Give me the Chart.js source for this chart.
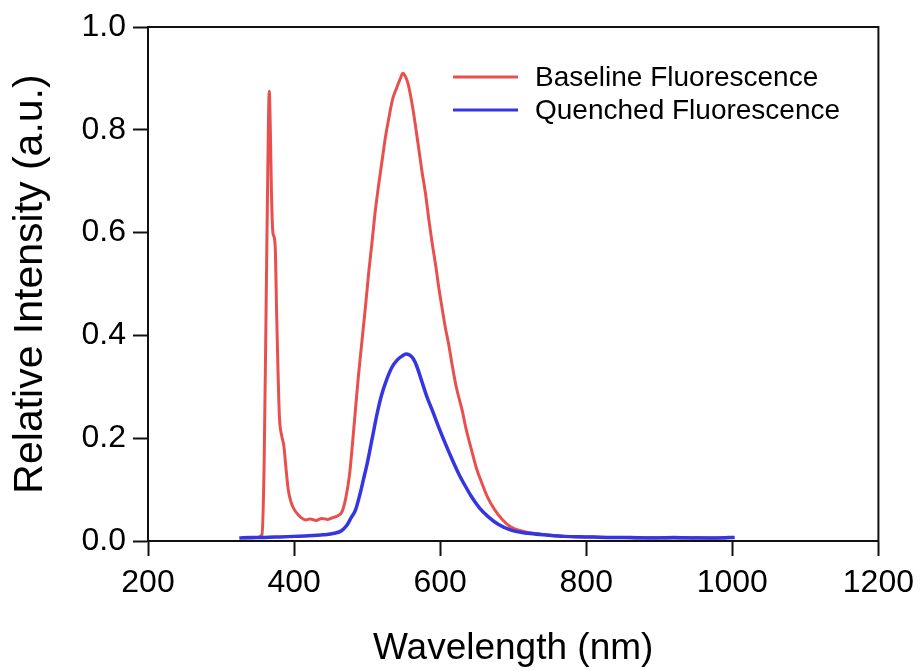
<!DOCTYPE html>
<html>
<head>
<meta charset="utf-8">
<script src="https://cdn.jsdelivr.net/npm/chart.js@4.4.1/dist/chart.umd.min.js"></script>
<style>
  html, body { margin: 0; padding: 0; background: #ffffff; }
  #wrap { width: 922px; height: 671px; position: relative; }
</style>
</head>
<body>
<div id="wrap"><canvas id="c" width="922" height="671"></canvas></div>
<script>
// ---- Data ----
const seriesNames = ['Baseline Fluorescence', 'Quenched Fluorescence'];

const baselineWavelength = [330, 340, 350, 356, 359, 362, 364, 366, 367.5, 369, 371, 373, 374.5, 376, 378, 380, 383, 386, 389, 392, 396, 400, 405, 410, 416, 422, 430, 438, 446, 454, 460, 466, 471, 476, 480, 484, 488, 493, 498, 502, 507, 511, 516, 521, 525, 530, 535, 540, 545, 549, 552, 556, 561, 566, 571, 575, 580, 585, 589, 594, 598, 603, 607, 612, 616, 622, 630, 636, 643, 650, 657, 665, 675, 685, 697, 710, 722, 734, 750, 770, 790, 810, 830, 850, 870, 890, 910, 930, 950, 970, 990, 1003];
const baselineIntensity = [0.006, 0.006, 0.007, 0.012, 0.15, 0.49, 0.72, 0.875, 0.80, 0.68, 0.60, 0.59, 0.56, 0.45, 0.33, 0.24, 0.205, 0.185, 0.14, 0.10, 0.075, 0.062, 0.052, 0.045, 0.041, 0.043, 0.040, 0.044, 0.042, 0.046, 0.049, 0.058, 0.085, 0.13, 0.19, 0.255, 0.32, 0.39, 0.46, 0.52, 0.585, 0.64, 0.695, 0.745, 0.785, 0.825, 0.86, 0.88, 0.898, 0.91, 0.905, 0.89, 0.855, 0.81, 0.76, 0.72, 0.675, 0.62, 0.58, 0.535, 0.494, 0.45, 0.416, 0.38, 0.346, 0.30, 0.255, 0.215, 0.177, 0.14, 0.113, 0.085, 0.06, 0.042, 0.027, 0.020, 0.016, 0.014, 0.011, 0.009, 0.008, 0.008, 0.007, 0.007, 0.006, 0.007, 0.006, 0.006, 0.007, 0.006, 0.006, 0.007];

const quenchedWavelength = [325, 340, 360, 380, 400, 420, 440, 455, 465, 472, 478, 484, 490, 495, 500, 507, 514, 520, 527, 534, 541, 548, 553, 558, 563, 568, 575, 582, 589, 597, 607, 616, 625, 634, 643, 654, 666, 680, 697, 720, 743, 770, 800, 830, 860, 890, 920, 950, 980, 1003];
const quenchedIntensity = [0.006, 0.007, 0.007, 0.008, 0.009, 0.010, 0.012, 0.015, 0.020, 0.030, 0.045, 0.060, 0.090, 0.120, 0.150, 0.200, 0.250, 0.285, 0.315, 0.338, 0.352, 0.360, 0.364, 0.362, 0.355, 0.340, 0.310, 0.280, 0.255, 0.225, 0.190, 0.160, 0.132, 0.108, 0.086, 0.064, 0.047, 0.032, 0.021, 0.015, 0.012, 0.009, 0.008, 0.007, 0.007, 0.006, 0.007, 0.006, 0.006, 0.007];

const xTickValues = [200, 400, 600, 800, 1000, 1200];
const yTickValues = [0.0, 0.2, 0.4, 0.6, 0.8, 1.0];

const axisTitleX = 'Wavelength (nm)';
const axisTitleY = 'Relative Intensity (a.u.)';

// ---- Chart ----
const FONT = "'Liberation Sans', Arial, Helvetica, sans-serif";
const RED = '#e8504e';
const BLUE = '#3535e4';

function toPoints(xs, ys) { return xs.map((x, i) => ({ x: x, y: ys[i] })); }

const framePlugin = {
  id: 'frame',
  afterDatasetsDraw(chart) {
    const { ctx, chartArea: a } = chart;
    ctx.save();
    ctx.strokeStyle = '#111';
    ctx.lineWidth = 2;
    ctx.strokeRect(a.left, a.top, a.right - a.left, a.bottom - a.top);
    ctx.restore();
  }
};

const legendPlugin = {
  id: 'insideLegend',
  afterDraw(chart) {
    const { ctx, chartArea: a } = chart;
    const ds = chart.data.datasets;
    ctx.save();
    ctx.font = '28px ' + FONT;
    ctx.textBaseline = 'middle';
    ctx.fillStyle = '#000';
    const lineX0 = a.left + 305, lineX1 = a.left + 370, textX = a.left + 387;
    ds.forEach((d, i) => {
      const y = a.top + 50 + i * 33;
      ctx.strokeStyle = d.borderColor;
      ctx.lineWidth = 3;
      ctx.beginPath();
      ctx.moveTo(lineX0, y);
      ctx.lineTo(lineX1, y);
      ctx.stroke();
      ctx.fillText(d.label, textX, y + 1);
    });
    ctx.restore();
  }
};

new Chart(document.getElementById('c'), {
  type: 'line',
  data: {
    datasets: [
      {
        label: seriesNames[0],
        data: toPoints(baselineWavelength, baselineIntensity),
        borderColor: RED,
        borderWidth: 3,
        pointRadius: 0,
        tension: 0,
        cubicInterpolationMode: 'monotone',
        order: 1
      },
      {
        label: seriesNames[1],
        data: toPoints(quenchedWavelength, quenchedIntensity),
        borderColor: BLUE,
        borderWidth: 3.5,
        pointRadius: 0,
        tension: 0,
        cubicInterpolationMode: 'monotone',
        order: 0
      }
    ]
  },
  options: {
    responsive: false,
    animation: false,
    devicePixelRatio: 1,
    layout: { padding: { top: 27, right: 40, bottom: 0, left: 0 } },
    plugins: { legend: { display: false }, tooltip: { enabled: false } },
    scales: {
      x: {
        type: 'linear',
        min: 200,
        max: 1200,
        afterBuildTicks: (s) => { s.ticks = xTickValues.map(v => ({ value: v })); },
        afterFit: (s) => { s.height = 130; },
        grid: { drawOnChartArea: false, drawTicks: true, tickLength: 15, color: '#111', tickWidth: 2 },
        border: { display: true, color: '#111', width: 2 },
        ticks: { color: '#000', font: { family: FONT, size: 32 }, padding: 8, maxRotation: 0,
                 callback: (v) => String(v) },
        title: { display: true, text: axisTitleX, color: '#000', font: { family: FONT, size: 37 },
                 padding: { top: 0, bottom: 0 } }
      },
      y: {
        type: 'linear',
        min: 0,
        max: 1,
        afterBuildTicks: (s) => { s.ticks = yTickValues.map(v => ({ value: v })); },
        afterFit: (s) => { s.width = 148; },
        grid: { drawOnChartArea: false, drawTicks: true, tickLength: 15, color: '#111', tickWidth: 2 },
        border: { display: true, color: '#111', width: 2 },
        ticks: { color: '#000', font: { family: FONT, size: 32 }, padding: 7,
                 callback: (v) => Number(v).toFixed(1) },
        title: { display: true, text: axisTitleY, color: '#000', font: { family: FONT, size: 41 },
                 padding: { top: 6, bottom: 0 } }
      }
    }
  },
  plugins: [framePlugin, legendPlugin]
});
</script>
</body>
</html>
